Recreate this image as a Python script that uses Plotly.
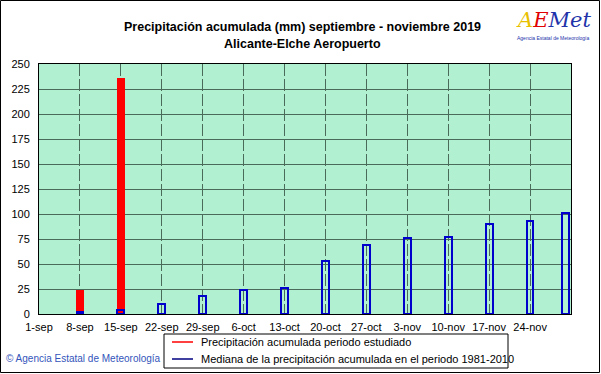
import plotly.graph_objects as go

# ---- data ----
tick_dates = ["2019-09-01", "2019-09-08", "2019-09-15", "2019-09-22", "2019-09-29",
              "2019-10-06", "2019-10-13", "2019-10-20", "2019-10-27", "2019-11-03",
              "2019-11-10", "2019-11-17", "2019-11-24"]
tick_labels = ["1-sep", "8-sep", "15-sep", "22-sep", "29-sep", "6-oct", "13-oct",
               "20-oct", "27-oct", "3-nov", "10-nov", "17-nov", "24-nov"]

obs_dates = ["2019-09-08", "2019-09-15"]
obs_values = [24, 236]

median_dates = ["2019-09-08", "2019-09-15", "2019-09-22", "2019-09-29", "2019-10-06",
                "2019-10-13", "2019-10-20", "2019-10-27", "2019-11-03", "2019-11-10",
                "2019-11-17", "2019-11-24", "2019-11-30"]
median_values = [2, 4, 10, 18, 24, 26, 53, 69, 76, 77, 90, 93, 101]

DAY = 86400000
FONT = "Liberation Sans, Arial, sans-serif"

# plot area in pixels
L, R, T, B = 39, 571, 64, 314
W, H = 601, 374
PW, PH = R - L, B - T


def px(x):
    return (x - L) / PW


def py(y):
    return (B - y) / PH


fig = go.Figure()
fig.add_trace(go.Bar(
    x=obs_dates, y=obs_values, width=[1.35 * DAY] * len(obs_dates),
    marker=dict(color="#ff0000", line=dict(width=0)),
    name="Precipitación acumulada periodo estudiado", showlegend=False,
))
fig.add_trace(go.Bar(
    x=median_dates, y=median_values, width=[1.15 * DAY] * len(median_dates),
    marker=dict(color="rgba(0,0,0,0)", line=dict(color="#0000cc", width=2)),
    name="Mediana de la precipitación acumulada en el periodo 1981-2010", showlegend=False,
))

shapes = []
annotations = []

# outer frame
shapes.append(dict(type="rect", xref="paper", yref="paper",
                   x0=px(0.5), x1=px(599.5), y0=py(372.5), y1=py(0.5),
                   line=dict(color="#000000", width=1)))

# legend box
lx0, lx1, ly0, ly1 = 164, 508, 334, 368
shapes.append(dict(type="rect", xref="paper", yref="paper",
                   x0=px(lx0), x1=px(lx1), y0=py(ly1), y1=py(ly0),
                   line=dict(color="#000000", width=1)))
for yy, col, txt in [(342, "#ff0000", "Precipitación acumulada periodo estudiado"),
                     (359, "#000080", "Mediana de la precipitación acumulada en el periodo 1981-2010")]:
    shapes.append(dict(type="line", xref="paper", yref="paper",
                       x0=px(172), x1=px(193), y0=py(yy), y1=py(yy),
                       line=dict(color=col, width=1.5)))
    annotations.append(dict(xref="paper", yref="paper", x=px(199), y=py(yy),
                            xanchor="left", yanchor="middle", showarrow=False,
                            text=txt, font=dict(family=FONT, size=11, color="#000000")))

# footer
annotations.append(dict(xref="paper", yref="paper", x=px(4), y=py(358),
                        xanchor="left", yanchor="middle", showarrow=False,
                        text="© Agencia Estatal de Meteorología",
                        font=dict(family=FONT, size=10, color="#3355bb")))

# title
annotations.append(dict(xref="paper", yref="paper", x=px(302), y=py(27),
                        xanchor="center", yanchor="middle", showarrow=False,
                        text="<b>Precipitación acumulada (mm) septiembre - noviembre 2019</b>",
                        font=dict(family=FONT, size=12.5, color="#000000")))
annotations.append(dict(xref="paper", yref="paper", x=px(302), y=py(44),
                        xanchor="center", yanchor="middle", showarrow=False,
                        text="<b>Alicante-Elche Aeropuerto</b>",
                        font=dict(family=FONT, size=12.5, color="#000000")))

# logo (approximation in text)
annotations.append(dict(xref="paper", yref="paper", x=px(553), y=py(20),
                        xanchor="center", yanchor="middle", showarrow=False,
                        text="<i><span style='color:#e8c000'>A</span><span style='color:#e00000'>E</span><span style='color:#2233aa'>Met</span></i>",
                        font=dict(family="DejaVu Serif, serif", size=21, color="#2233aa")))
annotations.append(dict(xref="paper", yref="paper", x=px(553), y=py(38),
                        xanchor="center", yanchor="middle", showarrow=False,
                        text="Agencia Estatal de Meteorología",
                        font=dict(family=FONT, size=5, color="#2233aa")))

fig.update_layout(
    width=W, height=H,
    margin=dict(l=L, r=W - R, t=T, b=H - B, pad=0),
    paper_bgcolor="white", plot_bgcolor="#b2f0d2",
    barmode="overlay", bargap=0,
    shapes=shapes, annotations=annotations,
    font=dict(family=FONT, size=11, color="#000000"),
)
fig.update_xaxes(
    type="date", range=["2019-09-01", "2019-12-01"],
    tickmode="array", tickvals=tick_dates, ticktext=tick_labels,
    showgrid=True, gridcolor="#4a6a5a", gridwidth=1, griddash="12px,3px",
    showline=True, linecolor="#000000", linewidth=1, mirror=True,
    ticks="", ticklabelstandoff=3, tickfont=dict(family=FONT, size=11, color="#000000"),
)
fig.update_yaxes(
    range=[0, 250], tickmode="array", tickvals=list(range(0, 251, 25)),
    showgrid=True, gridcolor="#4a6a5a", gridwidth=1, zeroline=False,
    showline=True, linecolor="#000000", linewidth=1, mirror=True,
    ticks="", ticklabelstandoff=6, tickfont=dict(family=FONT, size=11, color="#000000"),
)

fig.write_html("out.html", config={"displayModeBar": False},
               post_script="document.body.style.margin='0';document.body.style.overflow='hidden';")
